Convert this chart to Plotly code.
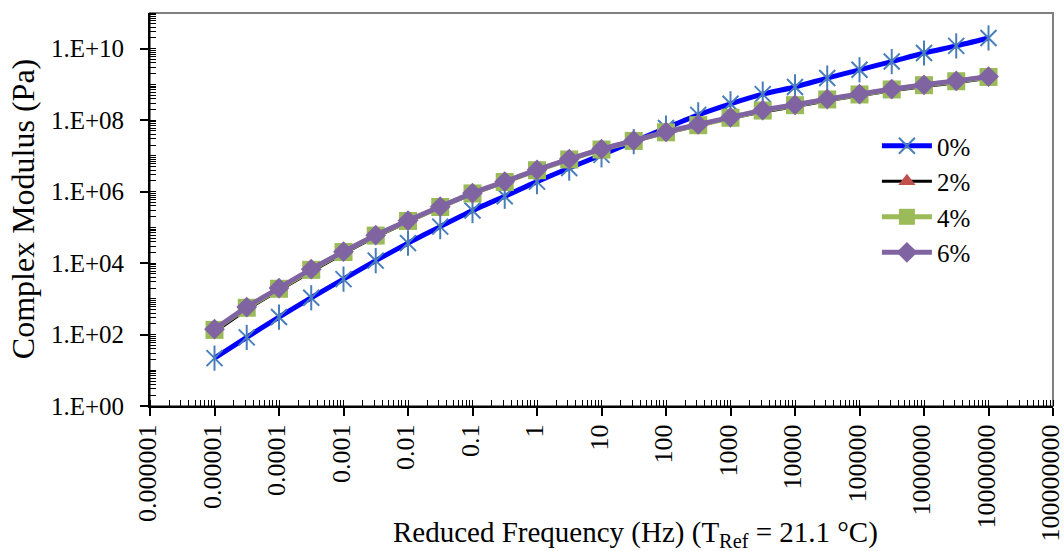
import plotly.graph_objects as go

freq = [1e-5, 3.16e-5, 1e-4, 3.16e-4, 1e-3, 3.16e-3, 1e-2, 3.16e-2, 0.1, 0.316,
        1, 3.16, 10, 31.6, 100, 316, 1e3, 3.16e3, 1e4, 3.16e4, 1e5, 3.16e5, 1e6, 3.16e6, 1e7]

mod_0 = [2.19e1, 8.32e1, 3.09e2, 1.07e3, 3.55e3, 1.17e4, 3.63e4, 1.05e5, 2.95e5, 7.41e5,
         1.91e6, 4.57e6, 1.07e7, 2.51e7, 6.03e7, 1.41e8, 2.88e8, 5.37e8, 8.51e8, 1.51e9,
         2.57e9, 4.37e9, 7.59e9, 1.20e10, 2.00e10]
mod_2 = [1.17e2, 4.90e2, 1.70e3, 5.75e3, 1.82e4, 5.37e4, 1.41e5, 3.55e5, 8.51e5, 1.82e6,
         3.89e6, 7.76e6, 1.48e7, 2.57e7, 4.37e7, 6.92e7, 1.12e8, 1.70e8, 2.40e8, 3.47e8,
         4.79e8, 6.61e8, 8.71e8, 1.12e9, 1.48e9]
mod_4 = [1.35e2, 5.62e2, 1.91e3, 6.46e3, 2.04e4, 5.89e4, 1.51e5, 3.72e5, 8.91e5, 1.86e6,
         3.98e6, 7.94e6, 1.51e7, 2.63e7, 4.57e7, 7.24e7, 1.17e8, 1.86e8, 2.63e8, 3.80e8,
         5.25e8, 7.24e8, 9.55e8, 1.23e9, 1.62e9]
mod_6 = [1.41e2, 5.89e2, 2.00e3, 6.76e3, 2.09e4, 6.03e4, 1.55e5, 3.80e5, 9.12e5, 1.91e6,
         4.07e6, 8.13e6, 1.55e7, 2.69e7, 4.68e7, 7.59e7, 1.20e8, 1.91e8, 2.69e8, 3.89e8,
         5.37e8, 7.41e8, 9.77e8, 1.26e9, 1.66e9]

x_tickvals = [1e-6, 1e-5, 1e-4, 1e-3, 1e-2, 1e-1, 1, 10, 100, 1e3, 1e4, 1e5, 1e6, 1e7, 1e8]
x_ticktext = ["0.000001", "0.00001", "0.0001", "0.001", "0.01", "0.1", "1", "10", "100",
              "1000", "10000", "100000", "1000000", "10000000", "100000000"]
y_tickvals = [1e0, 1e2, 1e4, 1e6, 1e8, 1e10]
y_ticktext = ["1.E+00", "1.E+02", "1.E+04", "1.E+06", "1.E+08", "1.E+10"]

x_title = "Reduced Frequency (Hz) (T<sub>Ref</sub> = 21.1 °C)"
y_title = "Complex Modulus (Pa)"

FONT = "Liberation Serif"

fig = go.Figure()

fig.add_trace(go.Scatter(
    x=freq, y=mod_0, name="0%", mode="lines+markers", legendgroup="0",
    line=dict(color="#0000FF", width=5, shape="spline", smoothing=0.6),
    marker=dict(symbol="x-thin-open", size=16, line=dict(color="#4A7EBB", width=2), color="#4A7EBB"),
))
fig.add_trace(go.Scatter(
    x=freq, y=mod_0, name="0%", mode="markers", legendgroup="0", showlegend=False,
    marker=dict(symbol="line-ns-open", size=18, line=dict(color="#4A7EBB", width=2), color="#4A7EBB"),
))
fig.add_trace(go.Scatter(
    x=freq, y=mod_2, name="2%", mode="lines+markers",
    line=dict(color="#000000", width=3, shape="spline", smoothing=0.6),
    marker=dict(symbol="triangle-up", size=15, color="#C0504D"),
))
fig.add_trace(go.Scatter(
    x=freq, y=mod_4, name="4%", mode="lines+markers",
    line=dict(color="#9BBB59", width=5, shape="spline", smoothing=0.6),
    marker=dict(symbol="square", size=18, color="#9BBB59"),
))
fig.add_trace(go.Scatter(
    x=freq, y=mod_6, name="6%", mode="lines+markers",
    line=dict(color="#8064A2", width=5, shape="spline", smoothing=0.6),
    marker=dict(symbol="diamond", size=16, color="#8064A2"),
))

fig.update_layout(
    width=1064, height=551,
    margin=dict(l=150, r=11, t=13, b=145),
    paper_bgcolor="white", plot_bgcolor="white",
    font=dict(family=FONT, color="black", size=22),
    legend=dict(x=0.805, y=0.72, xanchor="left", yanchor="top",
                font=dict(family=FONT, size=25, color="black"),
                bgcolor="rgba(0,0,0,0)", tracegroupgap=0, itemwidth=50),
    showlegend=True,
)

fig.update_xaxes(
    type="log", range=[-6, 8], automargin=False,
    tickmode="array", tickvals=x_tickvals, ticktext=x_ticktext,
    tickangle=-90, tickfont=dict(family=FONT, size=26), ticklabelstandoff=-2,
    ticklabelshift=-2, ticklabeloverflow="allow",
    ticks="outside", ticklen=8, tickwidth=2, tickcolor="black",
    showline=True, linecolor="black", linewidth=2,
    showgrid=False, zeroline=False,
    minor=dict(ticks="inside", ticklen=6, tickwidth=1, tickcolor="black", dtick="D1", showgrid=False),
)
fig.update_yaxes(
    type="log", range=[0, 11], automargin=False,
    tickmode="array", tickvals=y_tickvals, ticktext=y_ticktext,
    tickfont=dict(family=FONT, size=25), ticklabelstandoff=11,
    ticklabeloverflow="allow",
    ticks="outside", ticklen=8, tickwidth=2, tickcolor="black",
    showline=True, linecolor="black", linewidth=2,
    showgrid=False, zeroline=False,
    minor=dict(ticks="inside", ticklen=6, tickwidth=1, tickcolor="black", dtick="D1", showgrid=False),
)

fig.add_annotation(text=x_title, xref="paper", yref="paper", x=0.538, y=-0.326,
                   xanchor="center", yanchor="middle", showarrow=False,
                   font=dict(family=FONT, size=29, color="black"))
fig.add_annotation(text=y_title, xref="paper", yref="paper", x=-0.141, y=0.5,
                   xanchor="center", yanchor="middle", showarrow=False, textangle=-90,
                   font=dict(family=FONT, size=32, color="black"))

fig.add_shape(type="rect", xref="paper", yref="paper", x0=0, y0=0, x1=1, y1=1,
              line=dict(color="#808080", width=2), layer="below")

fig.write_html("out.html", config={"displayModeBar": False},
               post_script="document.body.style.margin='0';document.body.style.overflow='hidden';")
